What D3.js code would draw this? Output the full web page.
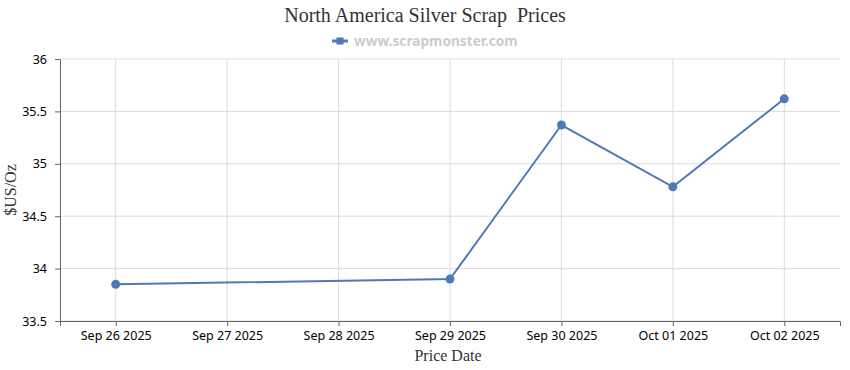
<!DOCTYPE html>
<html lang="en">
<head>
<meta charset="utf-8">
<title>North America Silver Scrap Prices</title>
<script src="https://d3js.org/d3.v7.min.js"></script>
<style>
  body { margin: 0; background: #fff; }
  svg text { font-family: "Noto Sans", sans-serif; }
</style>
</head>
<body>
<div id="chart"></div>
<script>
// chart data
var dates = ["Sep 26 2025", "Sep 27 2025", "Sep 28 2025", "Sep 29 2025", "Sep 30 2025", "Oct 01 2025", "Oct 02 2025"];
var prices = [33.85, null, null, 33.90, 35.37, 34.78, 35.62];
var yTicks = [33.5, 34, 34.5, 35, 35.5, 36];

var width = 850, height = 370;
var margin = {top: 59, right: 10, bottom: 49, left: 60};
var w = width - margin.left - margin.right,
    h = height - margin.top - margin.bottom;

var svg = d3.select("#chart").append("svg")
  .attr("width", width)
  .attr("height", height);

var g = svg.append("g")
  .attr("transform", "translate(" + margin.left + "," + margin.top + ")");

var x = d3.scalePoint().domain(dates).range([0, w]).padding(0.5);
var y = d3.scaleLinear().domain([33.5, 36]).range([h, 0]);

// grid
g.append("g").selectAll("line.h").data(yTicks).enter().append("line")
  .attr("x1", 0).attr("x2", w)
  .attr("y1", function(d) { return y(d); }).attr("y2", function(d) { return y(d); })
  .attr("stroke", "#dcdcdc");
g.append("g").selectAll("line.v").data(dates).enter().append("line")
  .attr("x1", function(d) { return x(d); }).attr("x2", function(d) { return x(d); })
  .attr("y1", 0).attr("y2", h)
  .attr("stroke", "#dcdcdc");

// axes
var xAxis = g.append("g")
  .attr("transform", "translate(0," + h + ")")
  .call(d3.axisBottom(x).tickSizeOuter(0).tickSize(5).tickPadding(5));
var yAxis = g.append("g")
  .call(d3.axisLeft(y).tickValues(yTicks).tickFormat(d3.format("")).tickSizeOuter(0).tickSize(5).tickPadding(8));
[xAxis, yAxis].forEach(function(a) {
  a.select(".domain").attr("stroke", "#666");
  a.selectAll(".tick line").attr("stroke", "#666");
  a.selectAll(".tick text").attr("fill", "#000").style("font-size", "12.5px").style("font-family", "'Noto Sans', sans-serif");
});

// line
var line = d3.line()
  .x(function(d) { return x(d.k); })
  .y(function(d) { return y(d.v); });
var pts = dates.map(function(d, i) { return {k: d, v: prices[i]}; }).filter(function(d) { return d.v != null; });

g.append("path").datum(pts)
  .attr("d", line)
  .attr("fill", "none")
  .attr("stroke", "#4f7ab5")
  .attr("stroke-width", 2);

g.selectAll("circle.pt").data(pts).enter().append("circle")
  .attr("cx", function(d) { return x(d.k); })
  .attr("cy", function(d) { return y(d.v); })
  .attr("r", 4.5)
  .attr("fill", "#4f7ab5");

// title
svg.append("text")
  .attr("x", width / 2).attr("y", 22)
  .attr("text-anchor", "middle")
  .style("font-family", "'Liberation Serif', serif")
  .style("font-size", "20px")
  .attr("fill", "#333")
  .attr("xml:space", "preserve")
  .text("North America Silver Scrap  Prices");

// legend
var lg = svg.append("g").attr("transform", "translate(332,41)");
lg.append("line").attr("x1", 0).attr("x2", 16).attr("y1", 0).attr("y2", 0)
  .attr("stroke", "#4f7ab5").attr("stroke-width", 3);
lg.append("rect").attr("x", 4.5).attr("y", -3.5).attr("width", 7).attr("height", 7).attr("fill", "#4f7ab5");
lg.append("text").attr("x", 22).attr("y", 5)
  .style("font-size", "13.7px").style("font-weight", "bold")
  .attr("fill", "#cccccc")
  .text("www.scrapmonster.com");

// axis titles
svg.append("text")
  .attr("x", margin.left + w / 2 - 2).attr("y", 361)
  .attr("text-anchor", "middle")
  .style("font-family", "'Liberation Serif', serif")
  .style("font-size", "16px")
  .attr("fill", "#333")
  .text("Price Date");
svg.append("text")
  .attr("transform", "translate(16," + (margin.top + h / 2) + ") rotate(-90)")
  .attr("text-anchor", "middle")
  .style("font-family", "'Liberation Serif', serif")
  .style("font-size", "16px")
  .attr("fill", "#333")
  .text("$US/Oz");
</script>
</body>
</html>
